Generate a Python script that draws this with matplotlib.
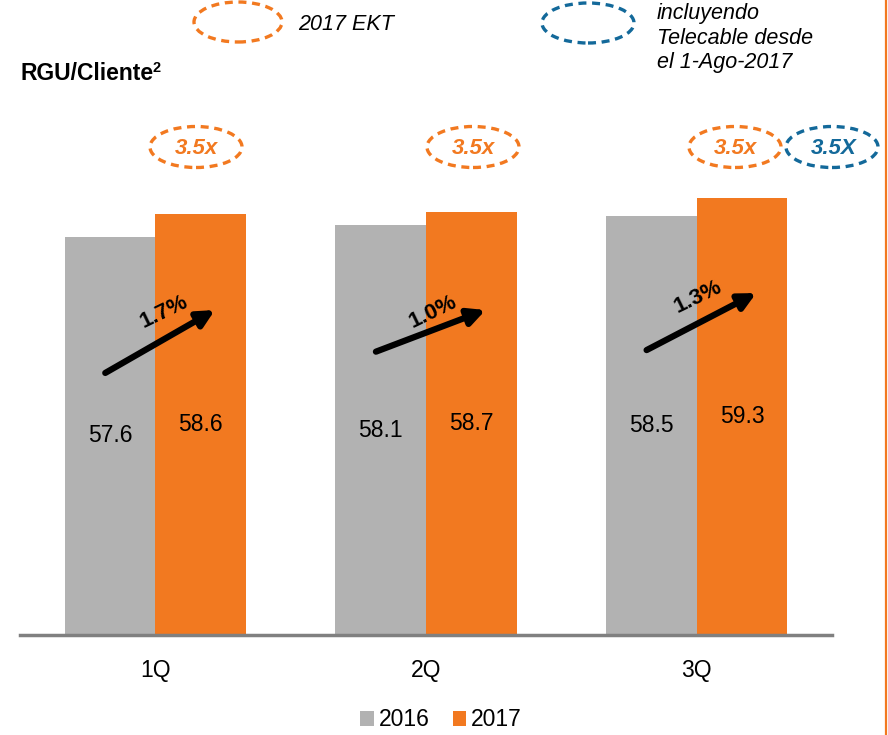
import numpy as np
import matplotlib
matplotlib.use("Agg")
import matplotlib.pyplot as plt
from matplotlib.patches import Ellipse
from matplotlib.lines import Line2D

plt.rcParams['font.family'] = ['Liberation Sans', 'DejaVu Sans']

quarters = ['1Q', '2Q', '3Q']
rgu_2016 = [57.6, 58.1, 58.5]
rgu_2017 = [58.6, 58.7, 59.3]
growth = ['1.7%', '1.0%', '1.3%']
series = ['2016', '2017']

gray = '#B2B2B2'
orange = '#F27920'
blue = '#13699A'

W, H = 888, 735
fig = plt.figure(figsize=(W / 100, H / 100), dpi=100)

# axes placed in pixel terms
ax = fig.add_axes([20 / W, (H - 635) / H, 812 / W, 535 / H])
ymin = 40
ax.set_xlim(-0.5, 2.5)
ax.set_ylim(ymin, ymin + 535 / 22.63)

x = np.arange(len(quarters))
w = 0.335
b1 = ax.bar(x - w / 2, rgu_2016, w, color=gray, label=series[0])
b2 = ax.bar(x + w / 2, rgu_2017, w, color=orange, label=series[1])

for xi, v in zip(x - w / 2, rgu_2016):
    ax.text(xi, (ymin + v) / 2, f'{v:.1f}', ha='center', va='center', fontsize=16.5)
for xi, v in zip(x + w / 2, rgu_2017):
    ax.text(xi, (ymin + v) / 2, f'{v:.1f}', ha='center', va='center', fontsize=16.5)

# growth arrows: start / end heights and label spots, in axis units
arrow_y0 = [51.58, 52.52, 52.59]
arrow_y1 = [54.36, 54.36, 55.11]
label_dx = [0.033, 0.026, 0.004]
label_y = [54.27, 54.27, 54.94]
for i, g in enumerate(growth):
    ax.annotate('', xy=(i + 0.22, arrow_y1[i]), xytext=(i - 0.185, arrow_y0[i]),
                arrowprops=dict(arrowstyle='-|>,head_length=1.0,head_width=0.5',
                                lw=4.5, color='black', shrinkA=0, shrinkB=0))
    ax.text(i + label_dx[i], label_y[i], g, ha='center', va='center',
            fontsize=16, fontweight='bold', rotation=26)

for s in ['top', 'left', 'right']:
    ax.spines[s].set_visible(False)
ax.spines['bottom'].set_color('#808080')
ax.spines['bottom'].set_linewidth(2.5)
ax.set_yticks([])
ax.set_xticks(x)
ax.set_xticklabels(quarters, fontsize=16.5)
ax.tick_params(axis='x', length=0, pad=17)


def ell(cx, cy, ew, eh, color):
    fig.add_artist(Ellipse((cx / W, 1 - cy / H), ew / W, eh / H,
                           transform=fig.transFigure, fill=False, ec=color,
                           lw=2.4, ls=(0, (2.4, 1.7))))


def ftext(px, py, s, **kw):
    fig.text(px / W, 1 - py / H, s, **kw)


# top key
ell(238, 22, 88, 40, orange)
ftext(298, 24, '2017 EKT', fontsize=15.5, style='italic', va='center')
ell(588, 23, 92, 40, blue)
ftext(657, 38, 'incluyendo\nTelecable desde\nel 1-Ago-2017', fontsize=15.5,
      style='italic', va='center', linespacing=1.2)

ftext(20, 80, 'RGU/Cliente', fontsize=16.5, fontweight='bold', va='baseline')
ftext(152, 72, '2', fontsize=10.5, fontweight='bold', va='baseline')

# 3.5x markers
for cx in [196, 473, 735]:
    ell(cx, 147, 92, 41, orange)
    ftext(cx, 148, '3.5x', fontsize=16, fontweight='bold', style='italic',
          color=orange, ha='center', va='center')
ell(832, 147, 92, 41, blue)
ftext(834, 148, '3.5X', fontsize=16, fontweight='bold', style='italic',
      color=blue, ha='center', va='center')

# right border line
fig.add_artist(Line2D([885.5 / W, 885.5 / W], [0, 1], transform=fig.transFigure,
                      color=orange, lw=1.6))

fig.legend(handles=[b1, b2], labels=series, loc='center', bbox_to_anchor=(441 / W, 1 - 720 / H),
           ncol=2, frameon=False, fontsize=16.5, handlelength=0.6, handleheight=0.6,
           handletextpad=0.2, columnspacing=1.0, borderpad=0)

fig.savefig('out.png', dpi=100)
